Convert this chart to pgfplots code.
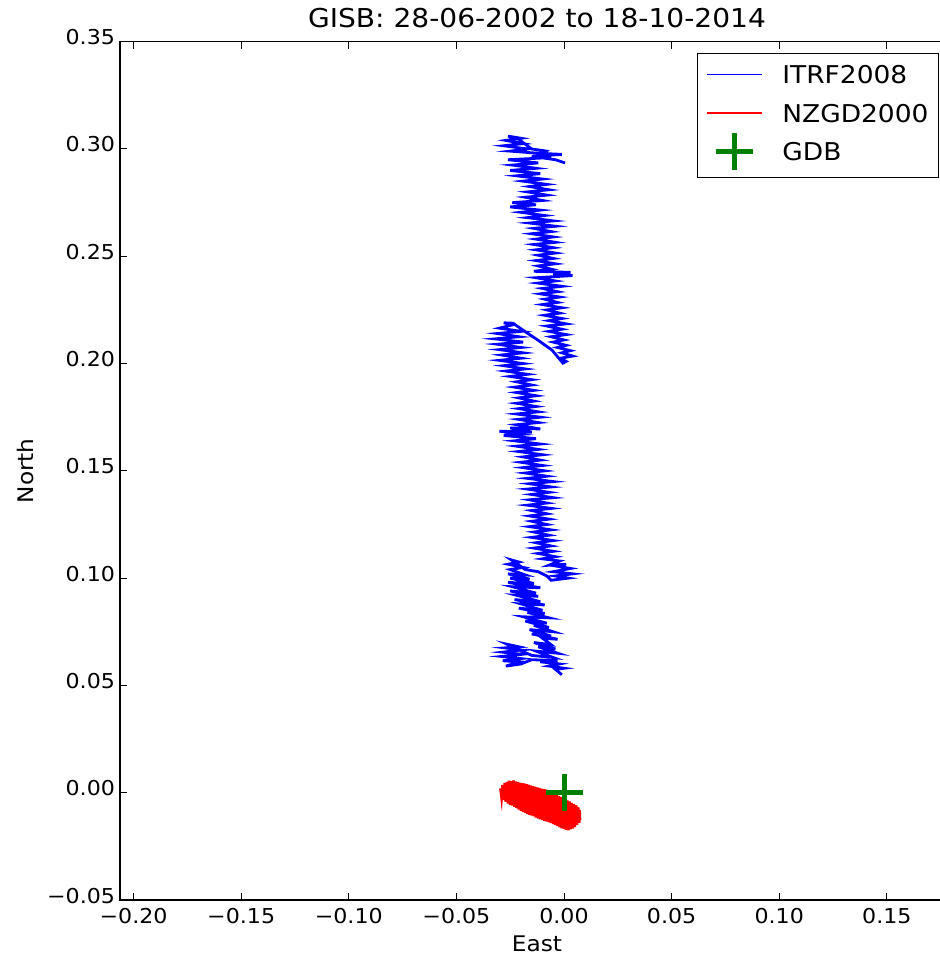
\documentclass[border=0pt]{standalone}
\usepackage{fontspec}
\setmainfont{DejaVu Sans}[FakeStretch=1.08]
\usepackage{pgfplots}
\pgfplotsset{compat=1.18}
\definecolor{mplgreen}{rgb}{0,0.5,0}
\pgfplotsset{
  lineimg/.style={legend image code/.code={\pgfpathrectangle{\pgfpoint{0pt}{-11.3pt}}{\pgfpoint{55pt}{22.6pt}}\pgfusepath{use as bounding box}\draw[##1, overlay, line width=1.4pt] (0pt,2.2pt) -- (55pt,2.2pt);}},
  markimg/.style={legend image code/.code={\pgfpathrectangle{\pgfpoint{0pt}{-11.3pt}}{\pgfpoint{55pt}{22.6pt}}\pgfusepath{use as bounding box}\draw[mark repeat=2,mark phase=2,##1, overlay] plot coordinates {(0pt,2.2pt) (27.5pt,2.2pt) (55pt,2.2pt)};}},
}
\begin{document}
\begin{tikzpicture}
\begin{axis}[
  at={(0,0)}, anchor=south west,
  scale only axis, width=834pt, height=858.3pt,
  xmin=-0.2063, xmax=0.1812, ymin=-0.05, ymax=0.35,
  axis line style={line width=1.2pt},
  tick style={black, line width=1pt},
  tick align=inside, major tick length=7pt,
  xtick={-0.20,-0.15,-0.10,-0.05,0,0.05,0.10,0.15},
  xticklabels={−0.20,−0.15,−0.10,−0.05,0.00,0.05,0.10,0.15},
  ytick={-0.05,0,0.05,0.10,0.15,0.20,0.25,0.30,0.35},
  yticklabels={−0.05,0.00,0.05,0.10,0.15,0.20,0.25,0.30,0.35},
  ticklabel style={font=\fontsize{20.5}{24}\selectfont},
  xticklabel style={anchor=base, yshift=-23pt},
  yticklabel style={anchor=base east, xshift=-1.5pt, yshift=-3pt},
  /pgf/number format/assume math mode=true,
  xlabel={East}, ylabel={North},
  label style={font=\fontsize{21.5}{25}\selectfont},
  xlabel style={at={(axis description cs:0.5,0)}, anchor=base, yshift=-51pt},
  ylabel style={at={(axis description cs:0,0.5)}, anchor=center, yshift=95pt},
  title={GISB: 28-06-2002 to 18-10-2014},
  title style={font=\fontsize{26}{31}\selectfont, at={(axis description cs:0.5,1)}, anchor=base, yshift=8pt},
  legend style={at={(1,1)}, anchor=north east, xshift=-15pt, yshift=-11pt,
    draw=black, line width=1pt, fill=white,
    font=\fontsize{24.5}{29}\selectfont,
    inner xsep=10pt, inner ysep=12.3pt, row sep=15.8pt, column sep=20pt,
    nodes={inner sep=0pt, text height=18.2pt, text depth=4.4pt},
    cells={anchor=west}},
  legend cell align=left,
]
\addplot[blue, line width=2.8pt, lineimg]
coordinates {
(-0.0010,0.0550) (-0.0040,0.0575) (0.0000,0.0580) (-0.0070,0.0590) (-0.0020,0.0600)
(-0.0110,0.0610) (-0.0030,0.0615) (-0.0150,0.0620) (-0.0200,0.0600) (-0.0270,0.0590)
(-0.0210,0.0610) (-0.0285,0.0615) (-0.0200,0.0625) (-0.0290,0.0635) (-0.0195,0.0645)
(-0.0285,0.0655) (-0.0200,0.0665) (-0.0275,0.0675) (-0.0210,0.0680) (-0.0265,0.0692)
(-0.0220,0.0670) (-0.0150,0.0640) (-0.0050,0.0630) (-0.0130,0.0660)
(-0.0030,0.0650) (-0.0120,0.0680) (-0.0040,0.0670) (-0.0140,0.0700) (-0.0060,0.0690)
(-0.0100,0.0720) (-0.0030,0.0715) (-0.0150,0.0740) (-0.0060,0.0730) (-0.0160,0.0760)
(-0.0050,0.0750) (-0.0140,0.0780) (-0.0070,0.0770) (-0.0180,0.0800) (-0.0080,0.0790)
(-0.0190,0.0820) (-0.0070,0.0815) (-0.0170,0.0840) (-0.0090,0.0835) (-0.0210,0.0860)
(-0.0100,0.0850) (-0.0200,0.0880) (-0.0090,0.0875) (-0.0230,0.0900) (-0.0110,0.0890)
(-0.0220,0.0920) (-0.0120,0.0915) (-0.0250,0.0940) (-0.0130,0.0930) (-0.0240,0.0960)
(-0.0110,0.0955) (-0.0260,0.0980) (-0.0140,0.0975) (-0.0250,0.1000) (-0.0160,0.0995)
(-0.0260,0.1020) (-0.0180,0.1015) (-0.0250,0.1040) (-0.0190,0.1050) (-0.0260,0.1065)
(-0.0210,0.1075) (-0.0245,0.1085) (-0.0180,0.1040) (-0.0120,0.1030) (-0.0080,0.1010)
(-0.0060,0.0990) (0.0020,0.1000) (-0.0040,0.1010) (0.0040,0.1020) (-0.0050,0.1030)
(0.0030,0.1045) (-0.0030,0.1055) (0.0010,0.1065) (-0.0070,0.1060) (-0.0020,0.1080)
(-0.0100,0.1090) (-0.0040,0.1100) (-0.0120,0.1115) (-0.0050,0.1125) (-0.0140,0.1140)
(-0.0060,0.1150) (-0.0130,0.1165) (-0.0050,0.1175) (-0.0150,0.1190) (-0.0070,0.1200)
(-0.0140,0.1215) (-0.0060,0.1225) (-0.0160,0.1240) (-0.0080,0.1250) (-0.0150,0.1265)
(-0.0070,0.1275) (-0.0160,0.1290) (-0.0080,0.1300) (-0.0150,0.1315) (-0.0060,0.1325)
(-0.0170,0.1340) (-0.0080,0.1350) (-0.0160,0.1365) (-0.0050,0.1375) (-0.0150,0.1390)
(-0.0070,0.1400) (-0.0170,0.1415) (-0.0060,0.1425) (-0.0160,0.1440) (-0.0050,0.1450)
(-0.0170,0.1465) (-0.0080,0.1475) (-0.0180,0.1490) (-0.0090,0.1500) (-0.0190,0.1515)
(-0.0100,0.1525) (-0.0200,0.1540) (-0.0110,0.1550) (-0.0190,0.1565) (-0.0100,0.1575)
(-0.0210,0.1590) (-0.0120,0.1600) (-0.0220,0.1615) (-0.0110,0.1625) (-0.0230,0.1640)
(-0.0130,0.1650) (-0.0280,0.1665) (-0.0200,0.1670) (-0.0300,0.1685) (-0.0150,0.1680)
(-0.0250,0.1700) (-0.0110,0.1695) (-0.0220,0.1715) (-0.0120,0.1725) (-0.0210,0.1740)
(-0.0110,0.1750) (-0.0220,0.1765) (-0.0120,0.1775) (-0.0210,0.1790) (-0.0130,0.1800)
(-0.0220,0.1815) (-0.0140,0.1825) (-0.0210,0.1840) (-0.0130,0.1850) (-0.0220,0.1865)
(-0.0140,0.1875) (-0.0230,0.1890) (-0.0150,0.1900) (-0.0220,0.1915) (-0.0150,0.1925)
(-0.0250,0.1940) (-0.0170,0.1950) (-0.0270,0.1965) (-0.0180,0.1975) (-0.0280,0.1990)
(-0.0190,0.2000) (-0.0300,0.2015) (-0.0200,0.2025) (-0.0290,0.2040) (-0.0190,0.2050)
(-0.0300,0.2065) (-0.0200,0.2075) (-0.0310,0.2090) (-0.0190,0.2100) (-0.0320,0.2115)
(-0.0210,0.2125) (-0.0310,0.2140) (-0.0200,0.2150) (-0.0300,0.2165) (-0.0240,0.2180)
(-0.0280,0.2190) (-0.0237,0.2188) (-0.0191,0.2156) (-0.0121,0.2109) (-0.0056,0.2063)
(-0.0005,0.2002) (0.0010,0.2010) (-0.0015,0.2025) (0.0040,0.2035) (-0.0010,0.2050)
(0.0030,0.2060) (-0.0030,0.2075) (0.0010,0.2085) (-0.0050,0.2100) (0.0000,0.2110)
(-0.0060,0.2125) (0.0010,0.2135) (-0.0070,0.2150) (-0.0010,0.2160) (-0.0080,0.2175)
(0.0010,0.2185) (-0.0070,0.2200) (-0.0010,0.2210) (-0.0090,0.2225) (-0.0020,0.2235)
(-0.0080,0.2250) (-0.0010,0.2260) (-0.0100,0.2275) (-0.0030,0.2285) (-0.0090,0.2300)
(-0.0020,0.2310) (-0.0110,0.2325) (-0.0030,0.2335) (-0.0100,0.2350) (-0.0010,0.2360)
(-0.0120,0.2375) (-0.0040,0.2385) (-0.0130,0.2400) (0.0040,0.2410) (-0.0050,0.2415)
(0.0030,0.2425) (-0.0140,0.2430) (-0.0060,0.2440) (-0.0120,0.2455) (-0.0040,0.2465)
(-0.0130,0.2480) (-0.0050,0.2490) (-0.0120,0.2505) (-0.0040,0.2515) (-0.0130,0.2530)
(-0.0050,0.2540) (-0.0140,0.2555) (-0.0040,0.2565) (-0.0130,0.2580) (-0.0050,0.2590)
(-0.0150,0.2605) (-0.0060,0.2615) (-0.0140,0.2630) (-0.0040,0.2640) (-0.0160,0.2655)
(-0.0050,0.2665) (-0.0170,0.2680) (-0.0090,0.2690) (-0.0200,0.2705) (-0.0110,0.2715)
(-0.0250,0.2730) (-0.0130,0.2740) (-0.0240,0.2750) (-0.0100,0.2760) (-0.0180,0.2775)
(-0.0080,0.2785) (-0.0170,0.2800) (-0.0070,0.2810) (-0.0160,0.2825) (-0.0080,0.2835)
(-0.0190,0.2850) (-0.0100,0.2860) (-0.0220,0.2875) (-0.0110,0.2885) (-0.0250,0.2900)
(-0.0130,0.2910) (-0.0240,0.2925) (-0.0120,0.2935) (-0.0260,0.2950) (-0.0060,0.2960)
(-0.0150,0.2965) (-0.0010,0.2975) (-0.0120,0.2980) (-0.0250,0.2990) (-0.0170,0.3000)
(-0.0280,0.3015) (-0.0190,0.3025) (-0.0270,0.3040) (-0.0200,0.3050) (-0.0260,0.3060)
(-0.0210,0.3045) (-0.0150,0.3000) (-0.0080,0.2990) (-0.0110,0.2960) (-0.0040,0.2950)
(0.0005,0.2935)
};
\addlegendentry{ITRF2008}
\addplot[red, line width=2.8pt, lineimg]
coordinates {
(-0.0295,0.0020) (-0.0290,-0.0022) (-0.0285,0.0036) (-0.0280,-0.0034) (-0.0275,0.0046)
(-0.0270,-0.0042) (-0.0265,0.0050) (-0.0260,-0.0050) (-0.0255,0.0056) (-0.0250,-0.0056)
(-0.0245,0.0054) (-0.0240,-0.0060) (-0.0235,0.0057) (-0.0230,-0.0066) (-0.0225,0.0052)
(-0.0220,-0.0072) (-0.0215,0.0050) (-0.0210,-0.0079) (-0.0205,0.0047) (-0.0200,-0.0084)
(-0.0195,0.0045) (-0.0190,-0.0090) (-0.0185,0.0043) (-0.0180,-0.0094) (-0.0175,0.0040)
(-0.0170,-0.0099) (-0.0165,0.0038) (-0.0160,-0.0103) (-0.0155,0.0034) (-0.0150,-0.0106)
(-0.0145,0.0031) (-0.0140,-0.0110) (-0.0135,0.0028) (-0.0130,-0.0116) (-0.0125,0.0025)
(-0.0120,-0.0120) (-0.0115,0.0022) (-0.0110,-0.0124) (-0.0105,0.0019) (-0.0100,-0.0128)
(-0.0095,0.0017) (-0.0090,-0.0131) (-0.0085,0.0015) (-0.0080,-0.0134) (-0.0075,0.0012)
(-0.0070,-0.0138) (-0.0065,0.0010) (-0.0060,-0.0141) (-0.0055,0.0004) (-0.0050,-0.0146)
(-0.0045,-0.0004) (-0.0040,-0.0151) (-0.0035,-0.0010) (-0.0030,-0.0156) (-0.0025,-0.0015)
(-0.0020,-0.0161) (-0.0015,-0.0020) (-0.0010,-0.0166) (-0.0005,-0.0025) (0.0000,-0.0170)
(0.0005,-0.0030) (0.0010,-0.0173) (0.0015,-0.0036) (0.0020,-0.0175) (0.0025,-0.0041)
(0.0030,-0.0171) (0.0035,-0.0048) (0.0040,-0.0167) (0.0045,-0.0052) (0.0050,-0.0160)
(0.0055,-0.0058) (0.0060,-0.0150) (0.0065,-0.0066) (0.0070,-0.0140) (0.0072,-0.0080)
(0.0074,-0.0128)
};
\addlegendentry{NZGD2000}
\addplot[mplgreen, only marks, mark=+, mark size=18.5pt, line width=5pt, markimg]
coordinates {(0,0)};
\addlegendentry{GDB}
\end{axis}
\pgfresetboundingbox
\path[use as bounding box] (-120pt,-59pt) rectangle (820pt,900pt);
\end{tikzpicture}
\end{document}
